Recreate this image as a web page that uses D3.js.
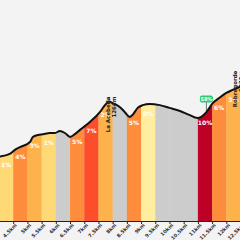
<!DOCTYPE html>
<html>
<head>
<meta charset="utf-8">
<script src="https://cdn.jsdelivr.net/npm/d3@7"></script>
<style>
  html, body { margin: 0; padding: 0; background: #f3f3f3; }
  svg { display: block; font-family: "DejaVu Sans", sans-serif; }
</style>
</head>
<body>
<div id="profile"></div>
<script>
// profile points (km, metres)
let km = [4.0, 4.38, 4.56, 4.74, 5.09, 5.19, 5.37, 5.55, 5.79, 5.97, 6.14, 6.32, 6.5, 6.67, 6.85,
          7.2, 7.55, 7.73, 7.87, 8.0, 8.25, 8.43, 8.6, 8.7, 8.88, 9.06, 9.3, 9.66, 10.0, 10.37,
          10.7, 10.98, 11.12, 11.3, 11.5, 11.75, 12.0, 12.2, 12.5]
let elevation = [1124, 1131, 1141, 1148, 1161, 1174, 1179, 1181, 1184, 1184, 1189, 1184, 1174, 1181, 1192,
                 1212, 1237, 1255, 1264, 1260, 1250, 1237, 1225, 1230, 1248, 1255, 1258, 1255, 1248, 1240,
                 1230, 1222, 1225, 1237, 1258, 1273, 1286, 1293, 1302]

// half-km sections and their gradient (%)
let segStart = [4, 4.5, 5, 5.5, 6, 6.5, 7, 7.5, 8, 8.5, 9, 9.5, 10, 10.5, 11, 11.5, 12]
let grades   = [1, 4, 3, 1, -2, 5, 7, 2, -5, 5, 0, -1, -2, -2, 10, 6, 3]

let tickKm = [4.5, 5, 5.5, 6, 6.5, 7, 7.5, 8, 8.5, 9, 9.5, 10, 10.5, 11, 11.5, 12, 12.5]
let tickLabels = ["4.5km", "5km", "5.5km", "6km", "6.5km", "7km", "7.5km", "8km", "8.5km",
                  "9km", "9.5km", "10km", "10.5km", "11km", "11.5km", "12km", "12.5km"]

let peakNames = ["La Acebeda", "Robregordo"]
let peakHeights = ["1264m", "1330m"]
let peakKm = [7.87, 12.34]
let peakElev = [1264, 1330]

let markerKm = [11.3]
let markerText = ["58%"]

let width = 240,
    height = 240,
    base = 221

let x = d3.scaleLinear().domain([4, 12.5]).range([-1, 240.5])
let y = d3.scaleLinear().domain([960, 1520]).range([base, 1])

// gradient colours
let color = d3.scaleThreshold()
  .domain([0, 1, 2, 4, 7, 9, 10])
  .range(["#cccccc", "#ffeda0", "#fed976", "#feb24c", "#fd8d3c", "#fc4e2a", "#e31a1c", "#bd0026"])

let points = km.map((k, i) => ({ km: k, ele: elevation[i] }))

function eleAt(k) {
  let i = d3.bisector(d => d.km).left(points, k)
  if (i <= 0) return points[0].ele
  if (i >= points.length) return points[points.length - 1].ele
  let a = points[i - 1], b = points[i]
  return a.ele + (b.ele - a.ele) * (k - a.km) / (b.km - a.km)
}

let svg = d3.select("#profile")
  .append("svg")
  .attr("width", width)
  .attr("height", height)

svg.append("rect").attr("width", width).attr("height", height).attr("fill", "#f3f3f3")

let area = d3.area()
  .x(d => x(d.km))
  .y0(y(960))
  .y1(d => y(d.ele))
  .curve(d3.curveMonotoneX)

let line = d3.line()
  .x(d => x(d.km))
  .y(d => y(d.ele))
  .curve(d3.curveMonotoneX)

svg.append("clipPath")
  .attr("id", "under")
  .append("path")
  .attr("d", area(points))

let segs = segStart.map((s, i) => ({ start: s, grade: grades[i] }))

svg.append("g")
  .attr("clip-path", "url(#under)")
  .selectAll("rect")
  .data(segs)
  .enter()
  .append("rect")
  .attr("x", d => x(d.start))
  .attr("width", d => x(d.start + 0.5) - x(d.start) + 0.3)
  .attr("y", 0)
  .attr("height", base)
  .attr("fill", d => color(d.grade))

svg.append("path")
  .attr("d", line(points))
  .attr("fill", "none")
  .attr("stroke", "#111")
  .attr("stroke-width", 2)
  .attr("stroke-linejoin", "round")

// gradient labels
svg.append("g")
  .selectAll("text")
  .data(segs.filter(d => d.grade >= 0))
  .enter()
  .append("text")
  .attr("x", d => x(d.start + 0.25))
  .attr("y", d => y(eleAt(d.start + 0.25)) + 12)
  .attr("text-anchor", "middle")
  .style("font-size", "6px")
  .style("font-weight", "bold")
  .style("fill", "white")
  .text(d => d.grade + "%")

// x axis
let axis = svg.append("g")
  .attr("transform", "translate(0," + base + ")")
  .call(d3.axisBottom(x)
    .tickValues(tickKm)
    .tickFormat((d, i) => tickLabels[i])
    .tickSize(3))

axis.select(".domain").attr("stroke", "#222").attr("stroke-width", 1)
axis.selectAll(".tick line").attr("stroke", "#222")
axis.selectAll(".tick text")
  .attr("transform", "translate(-1,0) rotate(-45)")
  .attr("text-anchor", "end")
  .attr("dy", "0.3em")
  .attr("y", 5)
  .style("font-size", "5px")
  .style("font-weight", "bold")
  .style("fill", "#333")
  .style("font-family", "'DejaVu Sans', sans-serif")

// peak labels
peakNames.forEach((name, i) => {
  let px = x(peakKm[i]), py = y(peakElev[i]) - 4
  svg.append("line")
    .attr("x1", px).attr("x2", px)
    .attr("y1", py).attr("y2", py + 3)
    .attr("stroke", "#222").attr("stroke-width", 0.6)
  svg.append("text")
    .attr("transform", "translate(" + (px + 1.5) + "," + (py - 1) + ") rotate(-90)")
    .attr("text-anchor", "end")
    .style("font-size", "5.5px")
    .style("font-weight", "bold")
    .style("fill", "#222")
    .text(name)
  svg.append("text")
    .attr("transform", "translate(" + (px + 7) + "," + (py - 1) + ") rotate(-90)")
    .attr("text-anchor", "end")
    .style("font-size", "5.5px")
    .style("font-weight", "bold")
    .style("fill", "#222")
    .text(peakHeights[i])
})

// marker
markerKm.forEach((k, i) => {
  let mx = x(k), my = y(eleAt(k))
  svg.append("line")
    .attr("x1", mx).attr("x2", mx)
    .attr("y1", my).attr("y2", 101)
    .attr("stroke", "#222").attr("stroke-width", 0.6)
  svg.append("rect")
    .attr("x", mx - 6.5).attr("y", 95.5)
    .attr("width", 13).attr("height", 7)
    .attr("rx", 2)
    .attr("fill", "#2ecc71")
  svg.append("text")
    .attr("x", mx).attr("y", 101)
    .attr("text-anchor", "middle")
    .style("font-size", "5px")
    .style("font-weight", "bold")
    .style("fill", "white")
    .text(markerText[i])
})
</script>
</body>
</html>
